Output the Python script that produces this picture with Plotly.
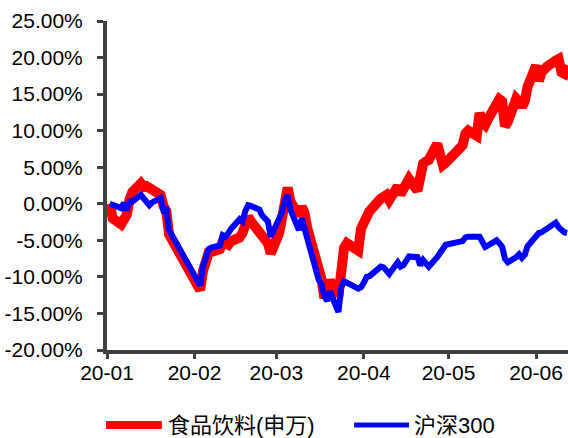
import plotly.graph_objects as go

# Trading days, 2020 H1 (Shanghai/Shenzhen calendar)
dates = [
    "2020-01-02", "2020-01-03", "2020-01-06", "2020-01-07", "2020-01-08", "2020-01-09", "2020-01-10",
    "2020-01-13", "2020-01-14", "2020-01-15", "2020-01-16", "2020-01-17",
    "2020-01-20", "2020-01-21", "2020-01-22", "2020-01-23",
    "2020-02-03", "2020-02-04", "2020-02-05", "2020-02-06", "2020-02-07",
    "2020-02-10", "2020-02-11", "2020-02-12", "2020-02-13", "2020-02-14",
    "2020-02-17", "2020-02-18", "2020-02-19", "2020-02-20", "2020-02-21",
    "2020-02-24", "2020-02-25", "2020-02-26", "2020-02-27", "2020-02-28",
    "2020-03-02", "2020-03-03", "2020-03-04", "2020-03-05", "2020-03-06",
    "2020-03-09", "2020-03-10", "2020-03-11", "2020-03-12", "2020-03-13",
    "2020-03-16", "2020-03-17", "2020-03-18", "2020-03-19", "2020-03-20",
    "2020-03-23", "2020-03-24", "2020-03-25", "2020-03-26", "2020-03-27",
    "2020-03-30", "2020-03-31", "2020-04-01", "2020-04-02", "2020-04-03",
    "2020-04-07", "2020-04-08", "2020-04-09", "2020-04-10",
    "2020-04-13", "2020-04-14", "2020-04-15", "2020-04-16", "2020-04-17",
    "2020-04-20", "2020-04-21", "2020-04-22", "2020-04-23", "2020-04-24",
    "2020-04-27", "2020-04-28", "2020-04-29", "2020-04-30",
    "2020-05-06", "2020-05-07", "2020-05-08",
    "2020-05-11", "2020-05-12", "2020-05-13", "2020-05-14", "2020-05-15",
    "2020-05-18", "2020-05-19", "2020-05-20", "2020-05-21", "2020-05-22",
    "2020-05-25", "2020-05-26", "2020-05-27", "2020-05-28", "2020-05-29",
    "2020-06-01", "2020-06-02", "2020-06-03", "2020-06-04", "2020-06-05",
    "2020-06-08", "2020-06-09", "2020-06-10", "2020-06-11", "2020-06-12",
]

# Cumulative return since 2020-01-02, in percent
food_bev = [
    0.0, -2.0, -2.8, -2.3, -1.5, 0.6, 1.6, 2.8, 2.3, 2.4, 2.1, 1.9, 1.2, -0.3, -1.0, -4.2,
    -11.8, -9.2, -7.2, -6.7, -6.6, -6.2, -5.2, -5.4, -5.6, -5.1,
    -4.6, -4.0, -2.3, -1.8, -2.4, -3.8, -4.3, -5.0, -5.4, -6.8,
    -4.0, -2.0, 1.0, 2.2, 0.3, -1.6, -0.4, -1.3, -3.4, -4.9,
    -8.3, -10.3, -12.9, -11.0, -10.5, -12.6, -7.2, -6.0, -5.4, -5.7, -6.4, -3.4,
    -2.8, -2.0, -1.0, 0.7, 1.0, 1.2, 0.5, 2.4, 1.3, 2.3, 2.9, 3.4,
    1.8, 4.8, 5.5, 5.8, 6.0, 8.2, 6.6, 5.3, 5.6,
    8.0, 9.6, 10.0, 9.3, 12.4, 11.2, 10.8, 11.6,
    14.0, 14.3, 14.0, 10.6, 11.2, 14.4, 14.0, 13.3, 14.0, 16.0,
    18.9, 16.8, 18.0, 18.7, 18.8, 19.6, 19.8, 18.0, 17.8, 19.0,
]

csi300 = [
    0.0, -0.2, -0.6, 0.1, -0.9, 0.3, 0.3, 1.2, 0.8, 0.4, -0.2, 0.2, 0.8, -0.9, -0.8, -3.6,
    -11.2, -8.6, -7.6, -6.2, -6.0, -5.7, -4.3, -4.5, -4.0, -3.4,
    -2.1, -2.4, -1.0, -0.2, -0.3, -0.8, -1.6, -2.0, -2.4, -4.5,
    -1.8, -1.2, 0.4, 1.2, -0.8, -3.6, -2.0, -3.4, -5.4, -6.8,
    -10.4, -11.0, -12.6, -13.3, -12.0, -14.8, -11.4, -10.6, -10.9, -11.0, -11.6, -11.4,
    -10.8, -10.0, -9.9, -8.6, -8.7, -9.2, -9.6, -8.0, -8.6, -8.4, -7.6, -7.2,
    -7.3, -8.4, -7.7, -8.2, -8.6, -7.3, -6.8, -6.0, -5.6,
    -5.1, -4.6, -4.5, -4.6, -4.5, -5.2, -5.9, -5.7,
    -5.0, -5.4, -5.9, -7.5, -8.0, -7.3, -6.9, -7.4, -7.0, -5.8,
    -4.2, -4.0, -3.9, -3.6, -3.3, -2.6, -3.2, -3.7, -3.9, -4.0,
]

series_names = ["食品饮料(申万)", "沪深300"]
series_colors = ["#FF0000", "#0000FF"]
series_widths = [10, 6]
legend_widths = [8, 5]

y_ticks = [-20, -15, -10, -5, 0, 5, 10, 15, 20, 25]
y_tick_labels = [f"{v:.2f}%" for v in y_ticks]

FONT = "Liberation Sans, Arial, Noto Sans CJK SC, sans-serif"
AXIS_COLOR = "#404040"

fig = go.Figure()
for name, vals, color, w in zip(series_names, [food_bev, csi300], series_colors, series_widths):
    fig.add_trace(go.Scatter(
        x=dates, y=vals, mode="lines", name=name,
        line=dict(color=color, width=w),
        showlegend=False,
    ))

# Legend drawn below the axis: sample line + label per series
legend_y = -0.228
legend_items = [
    (-0.002, 0.119, 0.130),
    (0.536, 0.655, 0.664),
]
for (x0, x1, tx), name, color, w in zip(legend_items, series_names, series_colors, legend_widths):
    fig.add_shape(type="line", xref="paper", yref="paper",
                  x0=x0, x1=x1, y0=legend_y, y1=legend_y,
                  line=dict(color=color, width=w))
    fig.add_annotation(xref="paper", yref="paper", x=tx, y=legend_y,
                       xanchor="left", yanchor="middle", showarrow=False,
                       borderpad=0,
                       text=name, font=dict(family=FONT, size=22, color="#000000"))

fig.update_layout(
    width=568, height=438,
    margin=dict(l=107, r=0, t=21, b=88, pad=0),
    paper_bgcolor="white", plot_bgcolor="white",
    font=dict(family=FONT, size=21, color="#000000"),
    xaxis=dict(
        type="date",
        range=["2020-01-01", "2020-06-12 08:00"],
        tick0="2020-01-01", dtick="M1", tickformat="%y-%m",
        showgrid=False, zeroline=False,
        showline=True, linecolor=AXIS_COLOR, linewidth=4,
        ticks="outside", ticklen=5, tickwidth=3, tickcolor=AXIS_COLOR,
        ticklabelstandoff=-4,
        tickfont=dict(family=FONT, size=21, color="#000000"),
    ),
    yaxis=dict(
        range=[-20, 25],
        tickvals=y_ticks, ticktext=y_tick_labels,
        showgrid=False, zeroline=False,
        showline=True, linecolor=AXIS_COLOR, linewidth=4,
        ticks="outside", ticklen=6, tickwidth=3, tickcolor=AXIS_COLOR,
        ticklabelstandoff=10,
        tickfont=dict(family=FONT, size=21, color="#000000"),
    ),
)

fig.write_html("out.html")
